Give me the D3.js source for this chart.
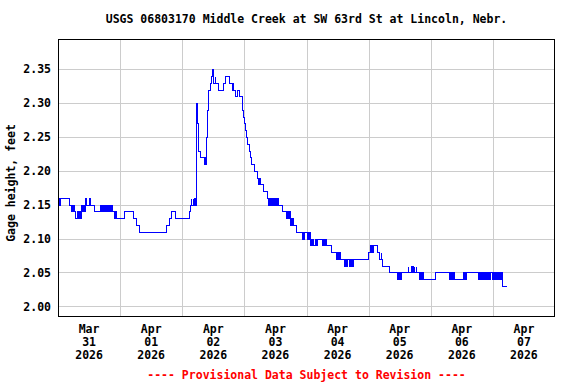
<!DOCTYPE html>
<html>
<head>
<meta charset="utf-8">
<script src="https://cdn.jsdelivr.net/npm/d3@7"></script>
<style>
  body { margin: 0; background: #fff; }
  text { font-family: "DejaVu Sans Mono", monospace; font-weight: bold; font-size: 11.5px; }
</style>
</head>
<body>
<svg id="svg" width="576" height="384"></svg>
<script>
/* USGS gage height hydrograph */

// readings start here, times below are hours after it
const startTime = new Date(2026, 2, 31, 0, 0);

// change points of the 15-minute gage height record: [hour, feet]
const steps = [
  [0, 2.15], [0.3, 2.16], [4.1, 2.15], [4.9, 2.14], [6.5, 2.13], [8.5, 2.14],
  [10.4, 2.16], [10.65, 2.15], [12.15, 2.16], [12.4, 2.15], [13.9, 2.14],
  [22.5, 2.13], [25.5, 2.14], [29.0, 2.13], [30.0, 2.12], [31.3, 2.11],
  [41.6, 2.12], [43.0, 2.13], [43.5, 2.14], [45.2, 2.13], [50.6, 2.14], [51.0, 2.15],
  [51.3, 2.16], [51.55, 2.15], [52.0, 2.16], [52.25, 2.15], [52.6, 2.16], [52.85, 2.15],
  [53.4, 2.30], [53.65, 2.27], [53.9, 2.24], [54.2, 2.23], [55.0, 2.22],
  [57.1, 2.22], [57.35, 2.25], [57.6, 2.29], [57.85, 2.32], [58.7, 2.33], [59.1, 2.34],
  [59.4, 2.35], [59.9, 2.33], [60.5, 2.34], [60.75, 2.33], [61.7, 2.32], [63.9, 2.33],
  [64.5, 2.34], [66.1, 2.33], [67.7, 2.32], [68.4, 2.31], [69.3, 2.32], [70.1, 2.31],
  [71.0, 2.30], [71.2, 2.29], [71.5, 2.28], [71.9, 2.27], [72.3, 2.26], [72.8, 2.25],
  [73.2, 2.24], [73.6, 2.23], [74.0, 2.22], [74.5, 2.21], [75.8, 2.20], [76.7, 2.19],
  [77.9, 2.18], [79.3, 2.17], [80.6, 2.16], [84.9, 2.15], [86.7, 2.14], [88.1, 2.13],
  [90.8, 2.12], [92.1, 2.11], [94.2, 2.10], [94.45, 2.11], [94.7, 2.10], [94.95, 2.11],
  [97.2, 2.10], [98.7, 2.09], [99.4, 2.10], [99.65, 2.09], [100.0, 2.10], [103.5, 2.09],
  [105.4, 2.08], [108.8, 2.07], [119.6, 2.08], [121.7, 2.09], [123.3, 2.08], [124.0, 2.07],
  [124.6, 2.08], [124.85, 2.07], [125.2, 2.06], [127.7, 2.05],
  [135.1, 2.06], [135.35, 2.05], [137.4, 2.06], [137.65, 2.05], [138.2, 2.06], [138.45, 2.05],
  [141.1, 2.04], [145.8, 2.05], [152.9, 2.04], [157.8, 2.05], [171.6, 2.03], [172.9, 2.03]
];

// stretches where the reading flips between two levels: [from hour, to hour, low, high]
const flutter = [
  [0, 0.8, 2.15, 2.16], [4.9, 6.2, 2.14, 2.15], [7.5, 8.8, 2.13, 2.14], [8.8, 10.4, 2.14, 2.15],
  [16.1, 17.8, 2.14, 2.15], [18.3, 20.9, 2.14, 2.15], [21.8, 22.5, 2.13, 2.14],
  [56.5, 57.1, 2.21, 2.22], [59.4, 59.8, 2.34, 2.35], [67.1, 67.7, 2.32, 2.33],
  [77.3, 77.9, 2.18, 2.19], [81.3, 84.5, 2.15, 2.16], [88.1, 89.7, 2.13, 2.14],
  [89.7, 90.8, 2.12, 2.13], [96.0, 97.2, 2.10, 2.11], [97.2, 98.7, 2.09, 2.10],
  [102.0, 103.5, 2.09, 2.10], [107.5, 108.8, 2.07, 2.08], [110.3, 111.7, 2.06, 2.07],
  [112.4, 114.0, 2.06, 2.07], [120.4, 121.7, 2.08, 2.09], [131.0, 132.5, 2.04, 2.05],
  [136.3, 137.0, 2.05, 2.06], [139.4, 141.1, 2.04, 2.05], [151.0, 152.9, 2.04, 2.05],
  [156.5, 157.8, 2.04, 2.05], [162.2, 166.9, 2.04, 2.05], [167.7, 171.6, 2.04, 2.05]
];

const yTicks = [2.00, 2.05, 2.10, 2.15, 2.20, 2.25, 2.30, 2.35];
const dayCount = 8;

const titleText = "USGS 06803170 Middle Creek at SW 63rd St at Lincoln, Nebr.";
const yLabel = "Gage height, feet";
const footText = "---- Provisional Data Subject to Revision ----";

var svg = d3.select("#svg");
// plot box (note: "top" is taken by window.top)
var box = { left: 58, right: 555, top: 39, bottom: 316 };

function hourToDate(h) {
    return new Date(startTime.getTime() + h * 3600 * 1000);
}
// snap to pixel centres so the 1px line stays solid blue
function px(v) { return Math.round(v) + 0.5; }

var x = d3.scaleTime()
    .domain([startTime, d3.timeDay.offset(startTime, dayCount)])
    .range([box.left, box.right]);
var y = d3.scaleLinear()
    .domain([1.9857, 2.3947])
    .range([box.bottom, box.top]);

// grid
var midnights = d3.timeDay.range(d3.timeDay.offset(startTime, 1), d3.timeDay.offset(startTime, dayCount));
svg.append("g").selectAll("line").data(midnights).join("line")
    .attr("x1", d => px(x(d))).attr("x2", d => px(x(d)))
    .attr("y1", box.top).attr("y2", box.bottom)
    .attr("stroke", "#cccccc");
svg.append("g").selectAll("line").data(yTicks).join("line")
    .attr("x1", box.left).attr("x2", box.right)
    .attr("y1", d => px(y(d))).attr("y2", d => px(y(d)))
    .attr("stroke", "#cccccc");

// y axis labels (axis line itself hidden, the frame is drawn below)
var yAxis = svg.append("g")
    .attr("transform", "translate(" + (box.left - 7) + ",0)")
    .call(d3.axisLeft(y).tickValues(yTicks).tickFormat(d3.format(".2f")).tickSize(0).tickPadding(0));
yAxis.select(".domain").remove();
yAxis.selectAll("text").attr("fill", "#000");
yAxis.attr("font-family", null).attr("font-size", null);

// x axis labels at noon of each day, three lines
var noons = d3.range(dayCount).map(i => d3.timeHour.offset(d3.timeDay.offset(startTime, i), 12));
var fmts = [d3.timeFormat("%b"), d3.timeFormat("%d"), d3.timeFormat("%Y")];
var xl = svg.append("g").selectAll("text").data(noons).join("text")
    .attr("x", d => x(d))
    .attr("y", 333)
    .attr("text-anchor", "middle");
fmts.forEach(function(f, i) {
    xl.append("tspan").attr("x", d => x(d)).attr("dy", i == 0 ? 0 : 13).text(d => f(d));
});

// flicker bands
svg.append("g").selectAll("rect").data(flutter).join("rect")
    .attr("x", d => px(x(hourToDate(d[0]))))
    .attr("width", d => px(x(hourToDate(d[1]))) - px(x(hourToDate(d[0]))))
    .attr("y", d => px(y(d[3])))
    .attr("height", d => px(y(d[2])) - px(y(d[3])))
    .attr("fill", "#0000ff").attr("stroke", "#0000ff").attr("stroke-width", 1)
    .attr("shape-rendering", "crispEdges");

// the record
var line = d3.line()
    .x(d => px(x(hourToDate(d[0]))))
    .y(d => px(y(d[1])))
    .curve(d3.curveStepAfter);
svg.append("path")
    .attr("d", line(steps))
    .attr("fill", "none")
    .attr("stroke", "#0000ff")
    .attr("stroke-width", 1)
    .attr("shape-rendering", "crispEdges");

// frame
svg.append("rect")
    .attr("x", box.left + 0.5).attr("y", box.top + 0.5)
    .attr("width", box.right - box.left - 1).attr("height", box.bottom - box.top)
    .attr("fill", "none").attr("stroke", "#000");

// texts
svg.append("text").attr("x", (box.left + box.right) / 2).attr("y", 23)
    .attr("text-anchor", "middle").text(titleText);
svg.append("text")
    .attr("transform", "translate(15,183) rotate(-90)")
    .attr("text-anchor", "middle").text(yLabel);
svg.append("text").attr("x", (box.left + box.right) / 2).attr("y", 379)
    .attr("text-anchor", "middle").attr("fill", "#ff0000").text(footText);
</script>
</body>
</html>
